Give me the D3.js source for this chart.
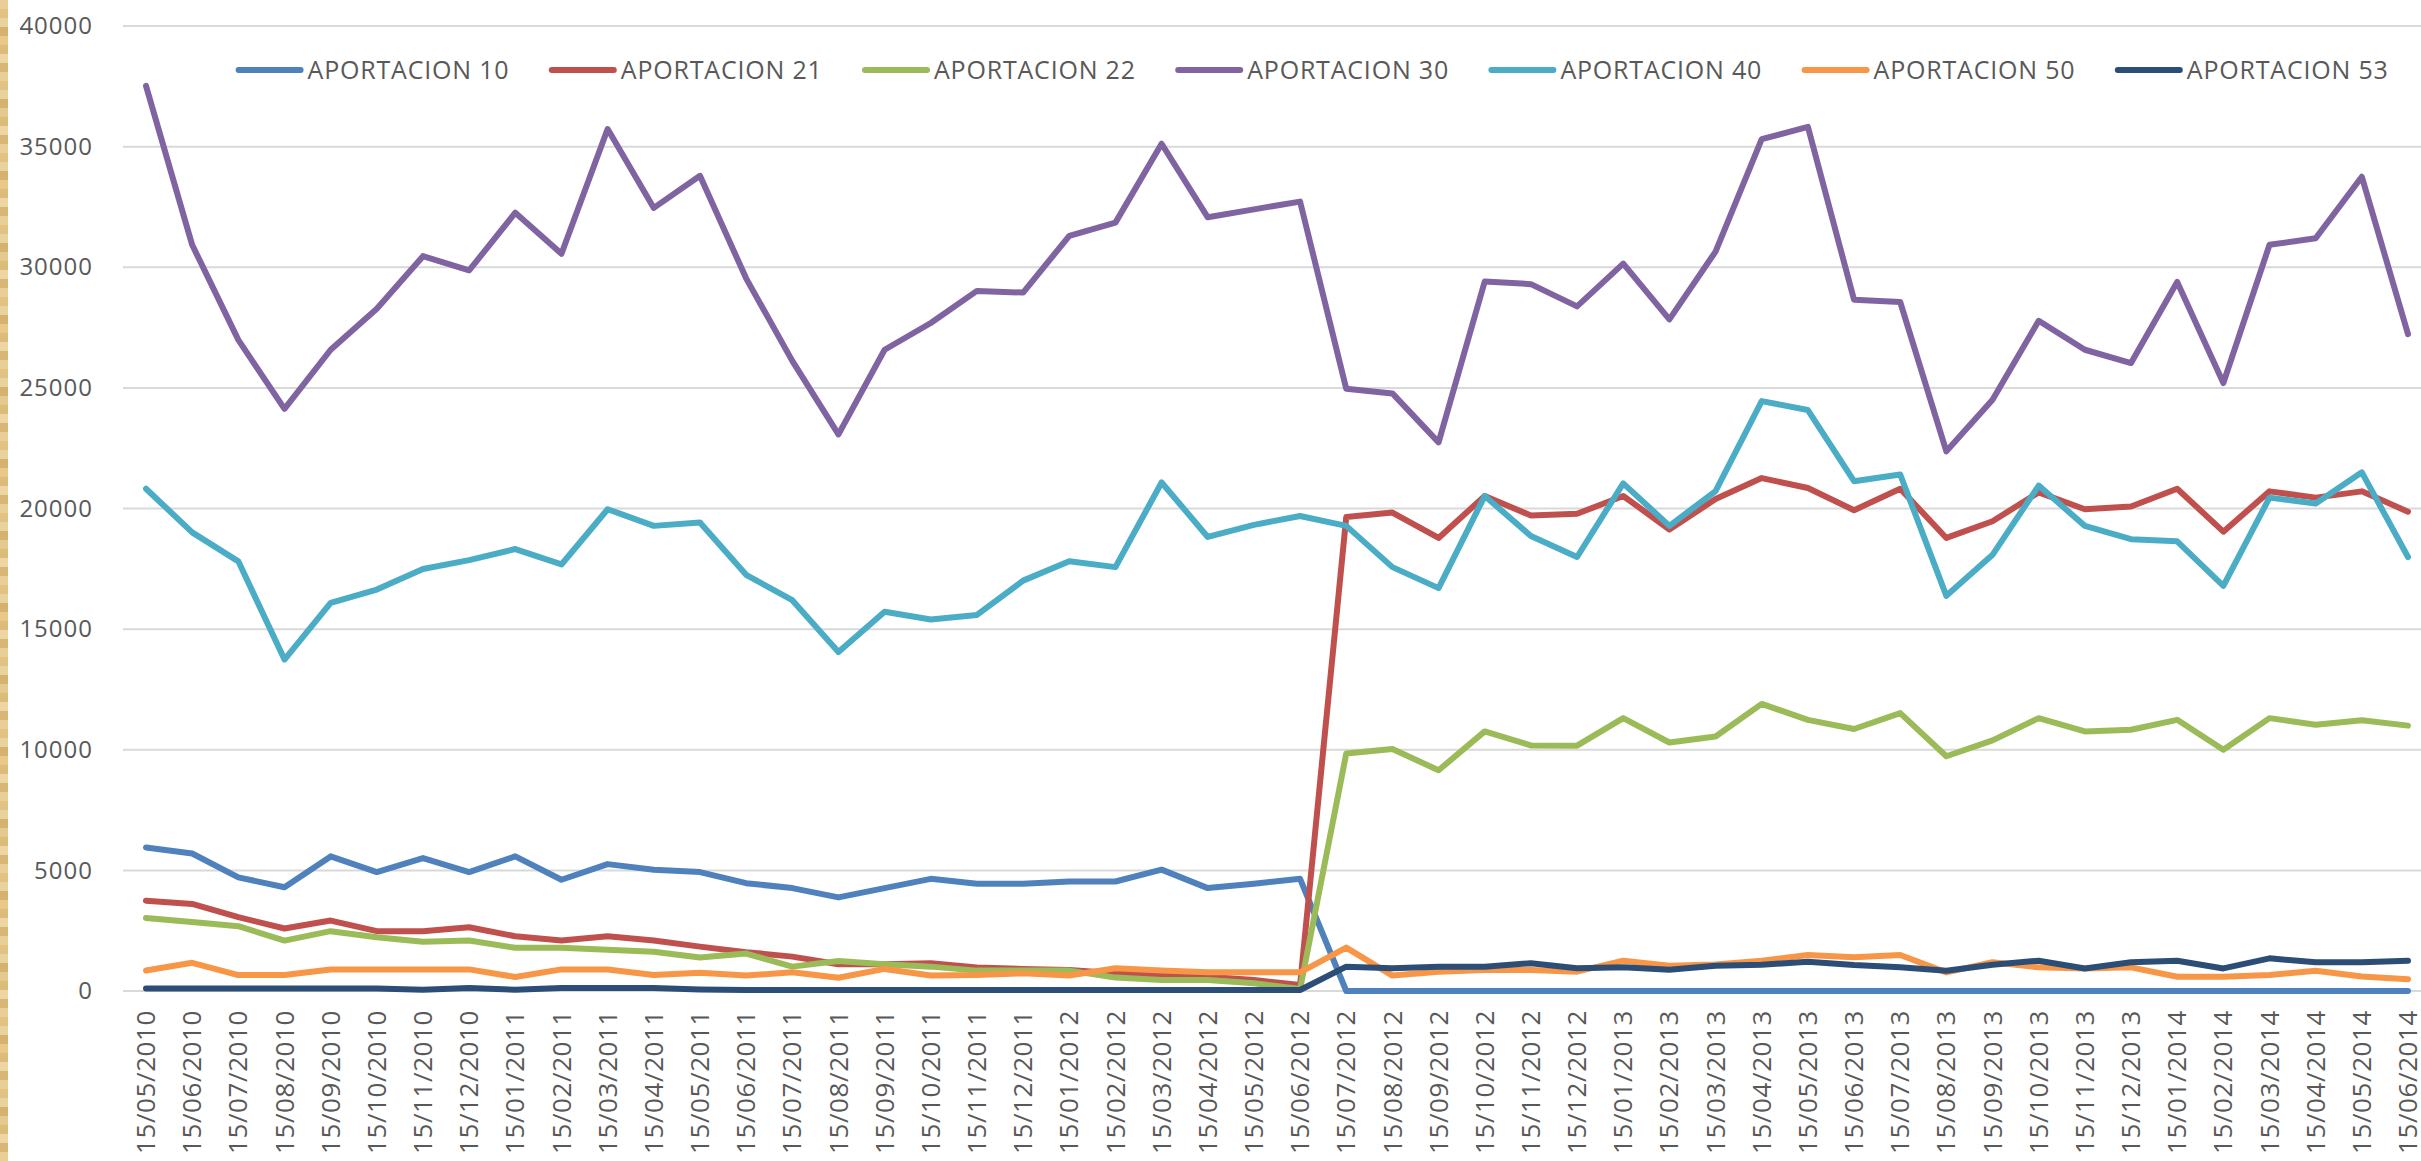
<!DOCTYPE html>
<html>
<head>
<meta charset="utf-8">
<script src="https://cdn.jsdelivr.net/npm/d3@7"></script>
<style>
  html, body { margin: 0; padding: 0; background: #ffffff; }
  svg { display: block; }
  text { font-family: "Open Sans", "Liberation Sans", sans-serif; }
</style>
</head>
<body>
<div id="chart"></div>
<script>
const categories = [
  "15/05/2010","15/06/2010","15/07/2010","15/08/2010","15/09/2010","15/10/2010","15/11/2010","15/12/2010",
  "15/01/2011","15/02/2011","15/03/2011","15/04/2011","15/05/2011","15/06/2011","15/07/2011","15/08/2011",
  "15/09/2011","15/10/2011","15/11/2011","15/12/2011","15/01/2012","15/02/2012","15/03/2012","15/04/2012",
  "15/05/2012","15/06/2012","15/07/2012","15/08/2012","15/09/2012","15/10/2012","15/11/2012","15/12/2012",
  "15/01/2013","15/02/2013","15/03/2013","15/04/2013","15/05/2013","15/06/2013","15/07/2013","15/08/2013",
  "15/09/2013","15/10/2013","15/11/2013","15/12/2013","15/01/2014","15/02/2014","15/03/2014","15/04/2014",
  "15/05/2014","15/06/2014"
];

const seriesNames = ["APORTACION 10","APORTACION 21","APORTACION 22","APORTACION 30","APORTACION 40","APORTACION 50","APORTACION 53"];
const seriesColors = ["#4F81BD","#C0504D","#9BBB59","#8064A2","#4BACC6","#F79646","#2C4D75"];

const aportacion10 = [5950,5700,4710,4300,5580,4930,5510,4930,5580,4610,5260,5025,4930,4470,4265,3880,4265,4650,4445,4445,4540,4540,5030,4265,4445,4650,
  0,0,0,0,0,0,0,0,0,0,0,0,0,0,0,0,0,0,0,0,0,0,0,0];
const aportacion21 = [3745,3610,3060,2590,2920,2480,2480,2640,2270,2090,2270,2090,1840,1610,1425,1110,1110,1150,970,915,870,735,665,595,457,250,
  19650,19830,18780,20520,19710,19780,20520,19130,20390,21260,20850,19930,20820,18780,19470,20670,19970,20080,20820,19040,20710,20450,20710,19870];
const aportacion22 = [3030,2860,2685,2090,2480,2230,2040,2090,1790,1790,1710,1625,1385,1550,1010,1245,1110,1010,845,845,845,555,457,457,320,80,
  9840,10030,9150,10760,10180,10170,11310,10300,10550,11900,11240,10860,11520,9730,10390,11310,10760,10830,11240,10000,11310,11040,11220,11000];
const aportacion30 = [37520,30930,26990,24130,26580,28280,30460,29870,32260,30560,35730,32460,33790,29540,26120,23070,26580,27690,29020,28950,31300,31850,35120,32070,32400,32720,
  24960,24770,22740,29410,29300,28380,30150,27840,30650,35310,35820,28650,28560,22370,24510,27780,26580,26030,29390,25200,30930,31200,33750,27230];
const aportacion40 = [20820,19010,17810,13740,16090,16640,17490,17860,18320,17680,19970,19280,19420,17250,16200,14050,15720,15400,15590,17010,17810,17570,21080,18820,19320,19690,
  19280,17570,16700,20520,18860,17990,21040,19280,20720,24450,24080,21130,21410,16380,18080,20950,19280,18730,18640,16790,20450,20210,21500,17990];
const aportacion50 = [850,1170,660,660,895,895,895,895,580,895,895,660,760,640,775,550,915,640,665,735,640,940,845,775,775,775,
  1800,640,800,870,870,800,1257,1050,1100,1257,1495,1400,1495,770,1190,980,935,980,590,590,660,840,600,490];
const aportacion53 = [100,100,100,100,100,100,50,120,50,120,120,120,60,40,40,40,40,40,40,40,40,40,40,40,40,40,
  1010,940,1010,1010,1150,940,980,880,1050,1090,1215,1075,980,840,1090,1257,935,1190,1257,935,1355,1190,1190,1257];

const yTicks = [0,5000,10000,15000,20000,25000,30000,35000,40000];

const seriesValues = [aportacion10, aportacion21, aportacion22, aportacion30, aportacion40, aportacion50, aportacion53];

const W = 2421, H = 1161;
const svg = d3.select("#chart").append("svg").attr("width", W).attr("height", H);

// wooden strip on left edge
const woodColors = ["#E9CF95","#DDBB7A","#EAD29C","#D8B676","#E6C98B","#E1C283","#EDD6A2","#D6B271"];
const woodBands = d3.range(0, H, 9);
svg.append("g").selectAll("rect").data(woodBands).join("rect")
  .attr("x", 0).attr("y", d => d).attr("width", 8).attr("height", 9)
  .attr("fill", (d, i) => woodColors[(i * 5) % woodColors.length]);

const x = d3.scalePoint().domain(categories).range([146, 2408]);
const y = d3.scaleLinear().domain([0, 40000]).range([991, 26]);

// gridlines
svg.append("g").selectAll("line").data(yTicks).join("line")
  .attr("x1", 123).attr("x2", W)
  .attr("y1", d => y(d)).attr("y2", d => y(d))
  .attr("stroke", "#D9D9D9").attr("stroke-width", 2);

// y axis labels
const yAxis = d3.axisLeft(y).tickValues(yTicks).tickSize(0).tickPadding(0).tickFormat(d3.format("d"));
const gy = svg.append("g").attr("transform", "translate(93,0)").call(yAxis);
gy.select(".domain").remove();
gy.selectAll("text")
  .attr("fill", "#595959").attr("font-size", 24).attr("letter-spacing", 1)
  .attr("font-family", "'Open Sans', sans-serif");

// x axis labels
const xAxis = d3.axisBottom(x).tickSize(0).tickPadding(0);
const gx = svg.append("g").attr("transform", "translate(0,1010)").call(xAxis);
gx.select(".domain").remove();
gx.selectAll("text")
  .attr("fill", "#595959").attr("font-size", 26).attr("letter-spacing", 0.6)
  .attr("font-family", "'Open Sans', sans-serif")
  .attr("text-anchor", "end")
  .attr("transform", "rotate(-90)")
  .attr("x", 0).attr("y", 0).attr("dy", "0.33em");

// lines
const line = d3.line().x((d, i) => x(categories[i])).y(d => y(d));
svg.append("g").selectAll("path").data(seriesValues).join("path")
  .attr("d", d => line(d))
  .attr("fill", "none")
  .attr("stroke", (d, i) => seriesColors[i])
  .attr("stroke-width", 6)
  .attr("stroke-linejoin", "round")
  .attr("stroke-linecap", "round");

// legend
const legend = svg.append("g").selectAll("g").data(seriesNames).join("g")
  .attr("transform", (d, i) => `translate(${235.6 + i * 313.2},70)`);
legend.append("line")
  .attr("x1", 3).attr("x2", 65).attr("y1", 0).attr("y2", 0)
  .attr("stroke", (d, i) => seriesColors[i]).attr("stroke-width", 6).attr("stroke-linecap", "round");
legend.append("text")
  .attr("x", 72).attr("y", 0).attr("dy", "0.36em")
  .attr("fill", "#595959").attr("font-size", 25).attr("letter-spacing", 0.8)
  .text(d => d);
</script>
</body>
</html>
